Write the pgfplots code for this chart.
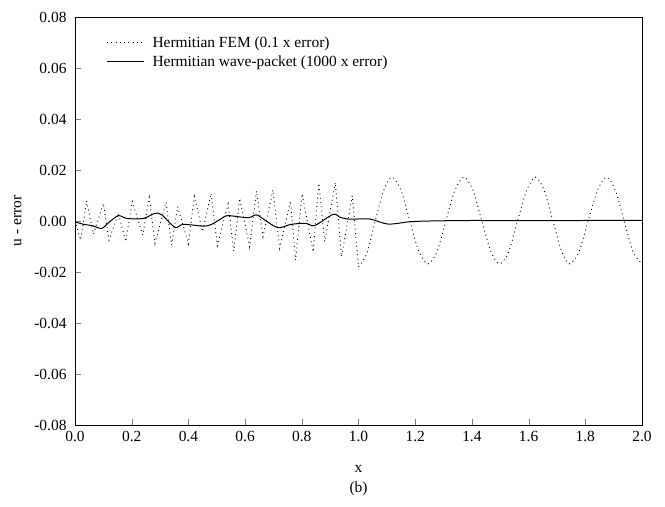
\documentclass[border=0pt]{standalone}
\usepackage{fontspec}
\setmainfont{Liberation Serif}
\usepackage{pgfplots}
\pgfplotsset{compat=1.18}
\begin{document}
\begin{tikzpicture}
\path[use as bounding box] (-75bp,-82bp) rectangle (590bp,425bp);
\begin{axis}[
  at={(0,0)}, anchor=south west,
  scale only axis, width=567bp, height=408bp,
  xmin=0, xmax=2, ymin=-0.08, ymax=0.08,
  xtick={0,0.2,...,2.0},
  ytick={-0.08,-0.06,...,0.08},
  tick align=inside, tick pos=left,
  major tick length=6bp,
  font=\fontsize{15.5}{18}\selectfont,
  /pgf/number format/assume math mode=true,
  xticklabel style={yshift=-3bp, /pgf/number format/.cd, fixed, fixed zerofill, precision=1},
  yticklabel style={xshift=-5bp, /pgf/number format/.cd, fixed, fixed zerofill, precision=2},
  scaled ticks=false,
  xlabel={x}, ylabel={u - error},
  xlabel style={at={(axis description cs:0.5,0)}, anchor=center, yshift=-44bp},
  ylabel style={yshift=6bp},
  axis line style={line width=0.8pt},
  legend cell align=left,
  legend style={draw=none, fill=none, at={(0.05,0.962)}, anchor=north west,
    font=\fontsize{15.5}{18}\selectfont, row sep=3bp},
  legend image code/.code={\draw[#1] (0bp,0bp) -- (37bp,0bp); \path (43bp,0bp);},
]
\addplot[black, line width=0.9pt, dash pattern=on 0.9pt off 3.4pt] coordinates {
(0.000,0.0000) (0.020,-0.0075) (0.041,0.0079) (0.065,-0.0052) (0.100,0.0069)
(0.120,-0.0075) (0.153,0.0030) (0.179,-0.0081) (0.202,0.0076) (0.239,-0.0055)
(0.262,0.0093) (0.282,-0.0088) (0.321,0.0073) (0.341,-0.0094) (0.362,0.0056)
(0.400,-0.0090) (0.421,0.0096) (0.450,-0.0042) (0.480,0.0109) (0.502,-0.0096)
(0.540,0.0067) (0.560,-0.0118) (0.581,0.0089) (0.616,-0.0101) (0.640,0.0118)
(0.663,-0.0062) (0.698,0.0122) (0.722,-0.0107) (0.760,0.0079) (0.778,-0.0153)
(0.801,0.0106) (0.840,-0.0121) (0.860,0.0148) (0.881,-0.0081) (0.918,0.0152)
(0.940,-0.0140) (0.978,0.0099) (1.000,-0.0180)
};
\addlegendentry{Hermitian FEM (0.1 x error)}
\addplot[black, line width=1pt, smooth] coordinates {
(0.000,-0.0003) (0.030,-0.0013) (0.060,-0.0018) (0.094,-0.0029) (0.120,-0.0005)
(0.153,0.0021) (0.182,0.0010) (0.241,0.0010) (0.282,0.0030) (0.306,0.0024)
(0.353,-0.0025) (0.382,-0.0013) (0.453,-0.0020) (0.482,-0.0013) (0.517,0.0010)
(0.540,0.0021) (0.610,0.0013) (0.640,0.0024) (0.669,0.0004) (0.716,-0.0026)
(0.763,-0.0013) (0.816,-0.0009) (0.845,-0.0018) (0.910,0.0026) (0.934,0.0015)
(0.969,0.0007) (1.039,0.0008) (1.104,-0.0012) (1.181,-0.0003) (1.251,0.0000)
(1.400,0.0002) (1.600,0.0001) (1.800,0.0002) (2.000,0.0002)
};
\addlegendentry{Hermitian wave-packet (1000 x error)}
\addplot[black, line width=0.9pt, dash pattern=on 0.9pt off 3.4pt, smooth, forget plot] coordinates {
(1.000,-0.0180) (1.030,-0.0125) (1.059,0.0000) (1.089,0.0120) (1.118,0.0172)
(1.150,0.0120) (1.181,0.0000) (1.213,-0.0120) (1.245,-0.0168) (1.277,-0.0120)
(1.308,0.0000) (1.340,0.0120) (1.372,0.0172) (1.404,0.0120) (1.435,0.0000)
(1.467,-0.0120) (1.498,-0.0168) (1.530,-0.0120) (1.561,0.0000) (1.593,0.0120)
(1.624,0.0172) (1.655,0.0120) (1.686,0.0000) (1.717,-0.0120) (1.745,-0.0168)
(1.778,-0.0120) (1.810,0.0000) (1.843,0.0120) (1.875,0.0172) (1.906,0.0120)
(1.937,0.0000) (1.968,-0.0120) (2.000,-0.0168)
};
\end{axis}
\node[font=\fontsize{15.5}{18}\selectfont] at (283.5bp,-64bp) {(b)};
\end{tikzpicture}
\end{document}
